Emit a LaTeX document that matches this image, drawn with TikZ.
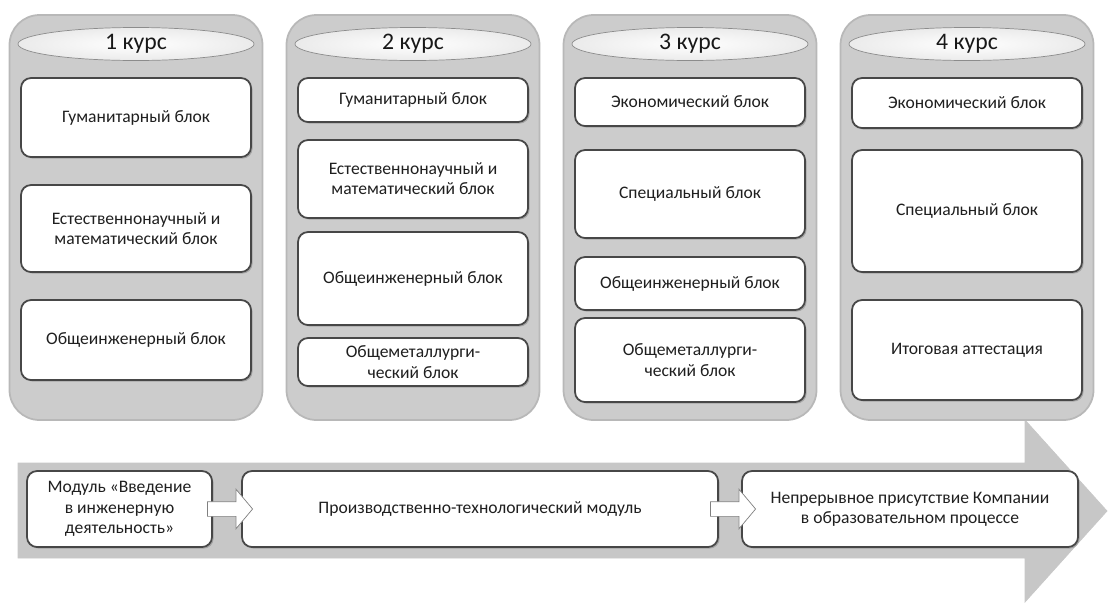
\documentclass[tikz,border=0pt]{standalone}
\usepackage{fontspec}
\setmainfont{Carlito}
\usetikzlibrary{calc,shapes.geometric,shapes.arrows,shadows}

\tikzset{
  kurs/.style={fill=black!20, draw=black!28, line width=1pt, rounded corners=0.6cm,
    minimum width=5.06cm, minimum height=8.1cm},
  golova/.style={ellipse, inner color=white, outer color=black!8, draw=black!45, inner sep=0pt,
    minimum width=4.72cm, minimum height=0.66cm, text=black!90,
    font=\fontsize{13.5}{15}\selectfont},
  blok/.style={fill=white, draw=black!72, line width=1pt, rounded corners=0.2cm,
    minimum width=4.6cm, align=center, text=black!88,
    font=\fontsize{10}{11.5}\selectfont,
    drop shadow={shadow xshift=0.9pt, shadow yshift=-0.9pt, opacity=0.5}},
  strelka/.style={single arrow, fill=white, draw=black!50, inner sep=0.14cm,
    minimum height=0.9cm, minimum width=0.64cm, single arrow tip angle=100}
}

\begin{document}
\begin{tikzpicture}
			%%%%% START %%%%%
			\useasboundingbox (0,0) rectangle (22.16,-12.06);
			
			% big arrow
			\draw[fill=black!22, draw=black!22] (0.36,-9.26) -- (20.5,-9.26) -- (20.5,-8.4) -- (22.14,-10.22)
			  -- (20.5,-12.04) -- (20.5,-11.16) -- (0.36,-11.16) -- cycle;
			
			% 1 kurs
			\node[kurs] (k1) at (2.72,-4.35) {};
			\node[golova] (h1) at (2.72,-0.88) {1 курс};
			\node[blok, minimum height=1.58cm] (gum1) at (2.72,-2.35) {Гуманитарный блок};
			\node[blok, minimum height=1.74cm] (est1) at (2.72,-4.57) {Естественнонаучный и\\математический блок};
			\node[blok, minimum height=1.6cm] (inzh1) at (2.72,-6.8) {Общеинженерный блок};
			
			% 2 kurs
			\node[kurs] (k2) at (8.26,-4.35) {};
			\node[golova] (h2) at (8.26,-0.88) {2 курс};
			\node[blok, minimum height=0.88cm] (gum2) at (8.26,-2.0) {Гуманитарный блок};
			\node[blok, minimum height=1.56cm] (est2) at (8.26,-3.58) {Естественнонаучный и\\математический блок};
			\node[blok, minimum height=1.86cm] (inzh2) at (8.26,-5.57) {Общеинженерный блок};
			\node[blok, minimum height=0.96cm] (met2) at (8.26,-7.24) {Общеметаллурги-\\ческий блок};
			
			% 3 kurs
			\node[kurs] (k3) at (13.8,-4.35) {};
			\node[golova] (h3) at (13.8,-0.88) {3 курс};
			\node[blok, minimum height=0.96cm] (eko3) at (13.8,-2.04) {Экономический блок};
			\node[blok, minimum height=1.76cm] (spec3) at (13.8,-3.88) {Специальный блок};
			\node[blok, minimum height=1.06cm] (inzh3) at (13.8,-5.67) {Общеинженерный блок};
			\node[blok, minimum height=1.68cm] (met3) at (13.8,-7.2) {Общеметаллурги-\\ческий блок};
			
			% 4 kurs
			\node[kurs] (k4) at (19.34,-4.35) {};
			\node[golova] (h4) at (19.34,-0.88) {4 курс};
			\node[blok, minimum height=1.0cm] (eko4) at (19.34,-2.06) {Экономический блок};
			\node[blok, minimum height=2.44cm] (spec4) at (19.34,-4.22) {Специальный блок};
			\node[blok, minimum height=2.0cm] (itog4) at (19.34,-7.0) {Итоговая аттестация};
			
			% moduli
			\node[blok, minimum width=3.7cm, minimum height=1.52cm] (mod) at (2.39,-10.18)
			  {Модуль «Введение\\в инженерную\\деятельность»};
			\node[blok, minimum width=9.52cm, minimum height=1.52cm] (prod) at (9.6,-10.18)
			  {Производственно-технологический модуль};
			\node[blok, minimum width=6.72cm, minimum height=1.52cm] (komp) at (18.2,-10.18)
			  {Непрерывное присутствие Компании\\в образовательном процессе};
			
			\node[strelka] (s1) at ($(mod.east)!0.5!(prod.west)$) {};
			\node[strelka] (s2) at ($(prod.east)!0.5!(komp.west)$) {};
			
			%%%%% END %%%%%
\end{tikzpicture}
\end{document}
